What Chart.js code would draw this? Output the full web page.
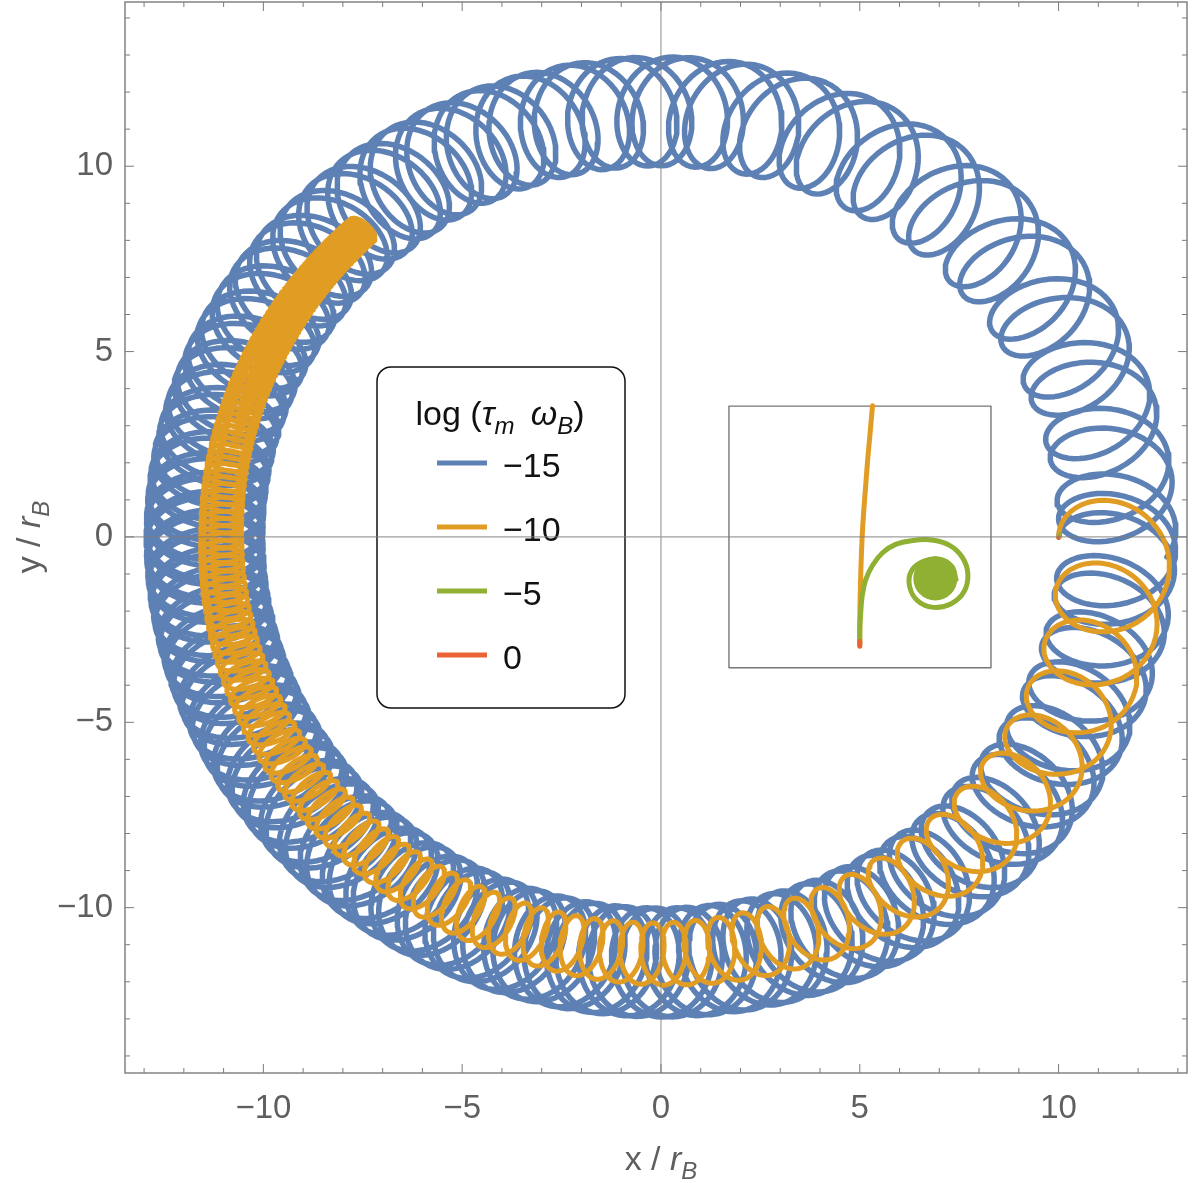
<!DOCTYPE html>
<html>
<head>
<meta charset="utf-8">
<script src="https://cdn.jsdelivr.net/npm/chart.js@4.4.1/dist/chart.umd.min.js"></script>
<style>
  html, body { margin: 0; padding: 0; background: #fff; }
  #wrap { width: 1200px; height: 1183px; position: relative; }
</style>
</head>
<body>
<div id="wrap"><canvas id="orbits"></canvas></div>
<script>
// ---- values ----------------------------------------------------------
// guiding-centre anchors: angle in degrees (clockwise = negative),
// advance per gyration, radial / tangential gyro half-widths and radius, all in r_B
var blueAngles     = [0, -30, -60, -90, -135, -180, -225, -270, -315, -360];
var blueSpacing    = [1.8, 1.35, 1.0, 0.85, 0.7, 0.5, 0.9, 1.3, 2.0, 1.8];
var blueRadial     = [1.47, 1.47, 1.47, 1.47, 1.47, 1.47, 1.47, 1.47, 1.47, 1.47];
var blueTangential = [1.05, 1.05, 1.05, 1.05, 1.05, 1.05, 1.05, 1.05, 1.05, 1.05];
var blueCentre     = [11.48, 11.48, 11.48, 11.48, 11.48, 11.48, 11.48, 11.48, 11.48, 11.48];
var blueEnd = -720;
var blueLapLag = 0.3;   // second lap sits this fraction of a loop behind the first

var orangeAngles     = [0, -10, -20, -30, -45, -60, -67, -90, -135, -180, -210, -228];
var orangeSpacing    = [1.7, 1.6, 1.45, 1.28, 1.1, 0.92, 0.82, 0.55, 0.32, 0.2, 0.13, 0.09];
var orangeRadial     = [1.43, 1.36, 1.28, 1.2, 1.08, 0.98, 0.95, 0.84, 0.66, 0.52, 0.47, 0.42];
var orangeTangential = [1.4, 1.27, 1.15, 1.0, 0.8, 0.66, 0.6, 0.42, 0.3, 0.24, 0.2, 0.2];
var orangeCentre     = [11.43, 11.4, 11.35, 11.3, 11.25, 11.22, 11.22, 11.25, 11.15, 11.06, 11.12, 11.18];
var orangeEnd = -228;

// the -5 and 0 runs barely leave the start point (10, 0)
var greenMainX = [10.0, 10.0, 10.04];
var greenMainY = [0.0, 0.05, 0.08];
var redMainX = [9.99, 10.0];
var redMainY = [-0.04, 0.0];

// inset (zoom of the start), drawn in plot units
var insetBoxX = [1.71, 8.30, 8.30, 1.71, 1.71];
var insetBoxY = [3.53, 3.53, -3.53, -3.53, 3.53];
var insetOrangeX = [5.32, 5.26, 5.2, 5.15, 5.1, 5.06, 5.03, 5.01, 5.0, 5.0];
var insetOrangeY = [3.54, 2.8, 2.1, 1.4, 0.7, 0.0, -0.8, -1.6, -2.3, -2.88];
var insetGreenX = [5.0, 5.0, 5.02, 5.06, 5.15, 5.33, 5.58, 5.9, 6.3, 6.8, 7.25, 7.58, 7.72, 7.62, 7.3, 6.85, 6.45, 6.25, 6.3, 6.6, 7.0, 7.32, 7.42];
var insetGreenY = [-2.9, -2.5, -2.1, -1.6, -1.15, -0.75, -0.42, -0.2, -0.1, -0.08, -0.22, -0.55, -1.0, -1.48, -1.8, -1.9, -1.72, -1.32, -0.92, -0.66, -0.6, -0.8, -1.15];
var insetBlobX = [6.9];
var insetBlobY = [-1.12];
var insetRedX = [5.0, 5.0];
var insetRedY = [-2.95, -2.82];

var legendLabels = ['\u221215', '\u221210', '\u22125', '0'];
var xTickLabels = [-10, -5, 0, 5, 10];
var yTickLabels = [-10, -5, 0, 5, 10];

var colBlue = '#5e81b5', colOrange = '#e19c24', colGreen = '#8fb032', colRed = '#eb6235';
var FONT = '"Liberation Sans", Arial, sans-serif';

// ---- helpers ---------------------------------------------------------
function lerp(keys, vals, k) {
  if (k >= keys[0]) return vals[0];
  for (var i = 1; i < keys.length; i++) {
    if (k >= keys[i]) {
      var f = (k - keys[i - 1]) / (keys[i] - keys[i - 1]);
      return vals[i - 1] + f * (vals[i] - vals[i - 1]);
    }
  }
  return vals[vals.length - 1];
}

// loops made during one full lap with the read spacing
function loopsPerLap(angles, spacing, centre) {
  var n = 0;
  for (var d = 0; d > -360; d -= 0.25) {
    n += lerp(angles, centre, d) * (0.25 * Math.PI / 180) / lerp(angles, spacing, d);
  }
  return n;
}

// gyration around a guiding centre that moves clockwise round the origin
function orbit(angles, spacing, radial, tangential, centre, endAngle, wrap, lag) {
  var pts = [], phi = 0, psi = 0, steps = 56, k = 1;
  if (wrap) {
    var n = loopsPerLap(angles, spacing, centre);
    k = n / (Math.floor(n) + lag);
  }
  while (phi >= endAngle) {
    var key = phi;
    if (wrap) { while (key < -360) key += 360; }
    var s = lerp(angles, spacing, key) * k, a = lerp(angles, radial, key);
    var b = lerp(angles, tangential, key), R = lerp(angles, centre, key);
    var p = phi * Math.PI / 180, c = Math.cos(p), sn = Math.sin(p);
    pts.push({
      x: R * c - a * Math.cos(psi) * c - b * Math.sin(psi) * sn,
      y: R * sn - a * Math.cos(psi) * sn + b * Math.sin(psi) * c
    });
    psi += 2 * Math.PI / steps;
    phi -= (s / R) / steps * 180 / Math.PI;
  }
  return pts;
}

function zip(xs, ys) {
  return xs.map(function(v, i) { return { x: v, y: ys[i] }; });
}

function minus(v) { return v < 0 ? '\u2212' + Math.abs(v) : String(v); }

// parts: [text, italic, subscript]
function richText(ctx, parts, x, y, size, align) {
  var font = function(p) {
    var sz = p[2] ? Math.round(size * 0.7) : size;
    return (p[1] ? 'italic ' : '') + sz + 'px ' + FONT;
  };
  var w = 0;
  parts.forEach(function(p) { ctx.font = font(p); w += ctx.measureText(p[0]).width; });
  var cx = align === 'center' ? x - w / 2 : x;
  ctx.textAlign = 'left';
  ctx.textBaseline = 'alphabetic';
  parts.forEach(function(p) {
    ctx.font = font(p);
    ctx.fillText(p[0], cx, y + (p[2] ? size * 0.27 : 0));
    cx += ctx.measureText(p[0]).width;
  });
}

var decorPlugin = {
  id: 'decor',
  afterDraw: function(chart) {
    var ctx = chart.ctx, area = chart.chartArea, xs = chart.scales.x, ys = chart.scales.y;
    ctx.save();

    // legend box
    var lx = 377, ly = 367, lw = 248, lh = 341, r = 14;
    ctx.beginPath();
    ctx.moveTo(lx + r, ly);
    ctx.arcTo(lx + lw, ly, lx + lw, ly + lh, r);
    ctx.arcTo(lx + lw, ly + lh, lx, ly + lh, r);
    ctx.arcTo(lx, ly + lh, lx, ly, r);
    ctx.arcTo(lx, ly, lx + lw, ly, r);
    ctx.closePath();
    ctx.strokeStyle = '#111';
    ctx.lineWidth = 1.5;
    ctx.stroke();

    ctx.fillStyle = '#111';
    richText(ctx, [['log (', false, false], ['\u03c4', true, false], ['m', true, true], [' \u2009', false, false],
                   ['\u03c9', true, false], ['B', true, true], [')', false, false]], 500, 425, 34, 'center');
    var cols = [colBlue, colOrange, colGreen, colRed];
    legendLabels.forEach(function(t, i) {
      var yy = 463 + i * 64;
      ctx.strokeStyle = cols[i];
      ctx.lineWidth = 5;
      ctx.beginPath(); ctx.moveTo(437, yy); ctx.lineTo(487, yy); ctx.stroke();
      ctx.fillStyle = '#111';
      ctx.font = '34px ' + FONT;
      ctx.textAlign = 'left';
      ctx.textBaseline = 'alphabetic';
      ctx.fillText(t, 503, yy + 14);
    });

    // axes through the origin, on top of everything
    var x0 = xs.getPixelForValue(0), y0 = ys.getPixelForValue(0);
    ctx.strokeStyle = 'rgba(125,125,125,0.75)';
    ctx.lineWidth = 1.2;
    ctx.beginPath();
    ctx.moveTo(x0, area.top); ctx.lineTo(x0, area.bottom);
    ctx.moveTo(area.left, y0); ctx.lineTo(area.right, y0);
    ctx.stroke();

    // frame with inward ticks on all sides
    ctx.strokeStyle = '#7b7b7b';
    ctx.lineWidth = 1.4;
    ctx.strokeRect(area.left, area.top, area.right - area.left, area.bottom - area.top);
    ctx.lineWidth = 1;
    ctx.beginPath();
    for (var v = -13; v <= 13; v++) {
      var len = v % 5 === 0 ? 9 : 5, px = xs.getPixelForValue(v);
      ctx.moveTo(px, area.bottom); ctx.lineTo(px, area.bottom - len);
      ctx.moveTo(px, area.top); ctx.lineTo(px, area.top + len);
    }
    for (var w = -14; w <= 14; w++) {
      var len2 = w % 5 === 0 ? 9 : 5, py = ys.getPixelForValue(w);
      ctx.moveTo(area.left, py); ctx.lineTo(area.left + len2, py);
      ctx.moveTo(area.right, py); ctx.lineTo(area.right - len2, py);
    }
    ctx.stroke();

    // axis titles
    ctx.fillStyle = '#5f5f5f';
    richText(ctx, [['x / ', false, false], ['r', true, false], ['B', true, true]], 661, 1170, 34, 'center');
    ctx.translate(40, 537);
    ctx.rotate(-Math.PI / 2);
    richText(ctx, [['y / ', false, false], ['r', true, false], ['B', true, true]], 0, 0, 34, 'center');
    ctx.restore();
  }
};

var lineSet = function(label, pts, color, width, order, tension) {
  return {
    label: label, data: pts, showLine: true, borderColor: color, borderWidth: width,
    pointRadius: 0, tension: tension || 0, borderJoinStyle: 'round', borderCapStyle: 'round', order: order
  };
};

var datasets = [
  lineSet('-15', orbit(blueAngles, blueSpacing, blueRadial, blueTangential, blueCentre, blueEnd, true, blueLapLag), colBlue, 5.5, 6),
  lineSet('-10', orbit(orangeAngles, orangeSpacing, orangeRadial, orangeTangential, orangeCentre, orangeEnd, false, 0), colOrange, 5, 5),
  lineSet('-5', zip(greenMainX, greenMainY), colGreen, 3, 4),
  lineSet('0', zip(redMainX, redMainY), colRed, 3, 3),
  lineSet('inset box', zip(insetBoxX, insetBoxY), '#777', 1.4, 3),
  lineSet('inset -10', zip(insetOrangeX, insetOrangeY), colOrange, 5, 2, 0.3),
  lineSet('inset -5', zip(insetGreenX, insetGreenY), colGreen, 5, 1, 0.35),
  {
    label: 'inset -5 core', data: zip(insetBlobX, insetBlobY), showLine: false,
    pointRadius: 22, backgroundColor: colGreen, borderWidth: 0, order: 1
  },
  lineSet('inset 0', zip(insetRedX, insetRedY), colRed, 5, 0)
];

function noPad(s) { s.paddingTop = 0; s.paddingBottom = 0; s.paddingLeft = 0; s.paddingRight = 0; }

new Chart(document.getElementById('orbits'), {
  type: 'scatter',
  data: { datasets: datasets },
  options: {
    responsive: true,
    maintainAspectRatio: false,
    animation: false,
    events: [],
    layout: { autoPadding: false, padding: { top: 2, right: 13, left: 0, bottom: 0 } },
    plugins: { legend: { display: false }, tooltip: { enabled: false } },
    scales: {
      x: {
        type: 'linear', min: -13.48, max: 13.23,
        grid: { display: false, drawTicks: false },
        border: { display: false },
        afterBuildTicks: function(s) { s.ticks = xTickLabels.map(function(v) { return { value: v }; }); },
        afterFit: function(s) { s.height = 110; noPad(s); },
        ticks: {
          padding: 16, color: '#5f5f5f', maxRotation: 0, autoSkip: false,
          font: { family: FONT, size: 33 },
          callback: function(v) { return minus(v); }
        }
      },
      y: {
        type: 'linear', min: -14.46, max: 14.43,
        grid: { display: false, drawTicks: false },
        border: { display: false },
        afterBuildTicks: function(s) { s.ticks = yTickLabels.map(function(v) { return { value: v }; }); },
        afterFit: function(s) { s.width = 125; noPad(s); },
        ticks: {
          padding: 12, color: '#5f5f5f', autoSkip: false,
          font: { family: FONT, size: 33 },
          callback: function(v) { return minus(v); }
        }
      }
    }
  },
  plugins: [decorPlugin]
});
</script>
</body>
</html>
